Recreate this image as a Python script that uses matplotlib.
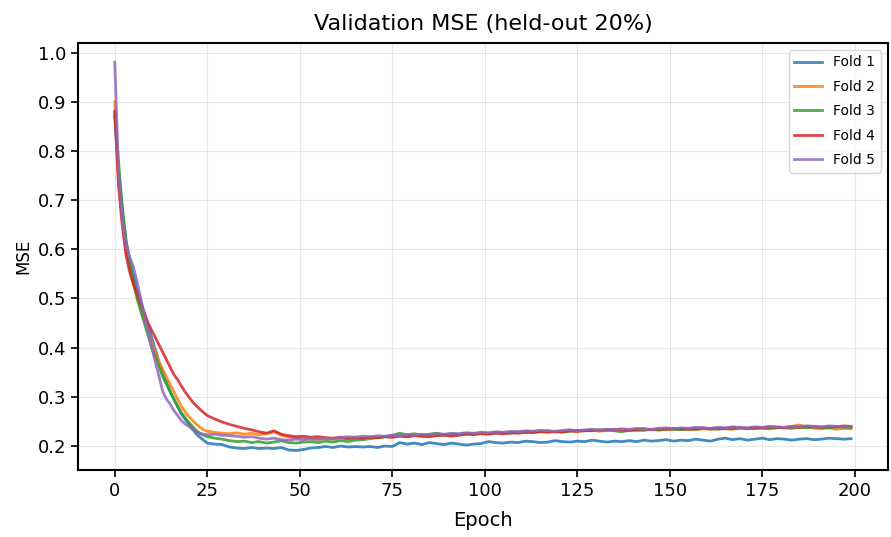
import matplotlib

matplotlib.use("Agg")
import matplotlib.pyplot as plt

# Epochs que se dibujan: cada epoch al principio, cada 2 despues
epochs = list(range(25)) + list(range(25, 200, 2))

fold1 = [
    0.87, 0.76, 0.68, 0.62, 0.58, 0.55, 0.52, 0.495, 0.47, 0.445,
    0.42, 0.395, 0.37, 0.35, 0.33, 0.31, 0.295, 0.28, 0.265, 0.255,
    0.245, 0.235, 0.225, 0.218, 0.212,
    0.206, 0.204, 0.203, 0.198, 0.196, 0.195, 0.197, 0.195, 0.196, 0.195,
    0.197, 0.192, 0.191, 0.193, 0.196, 0.197, 0.199, 0.197, 0.200, 0.198,
    0.199, 0.198, 0.199, 0.197, 0.200, 0.199, 0.207, 0.204, 0.206, 0.203,
    0.207, 0.205, 0.203, 0.206, 0.204, 0.202, 0.204, 0.205, 0.209, 0.207,
    0.206, 0.208, 0.207, 0.210, 0.209, 0.207, 0.208, 0.211, 0.209, 0.208,
    0.210, 0.209, 0.212, 0.210, 0.208, 0.210, 0.209, 0.211, 0.209, 0.212,
    0.210, 0.211, 0.213, 0.210, 0.212, 0.211, 0.214, 0.212, 0.210, 0.214,
    0.216, 0.213, 0.215, 0.212, 0.214, 0.216, 0.213, 0.215, 0.214, 0.212,
    0.214, 0.215, 0.213, 0.214, 0.216, 0.215, 0.214, 0.215,
]
fold2 = [
    0.90, 0.74, 0.66, 0.60, 0.56, 0.53, 0.505, 0.48, 0.455, 0.43,
    0.41, 0.39, 0.37, 0.355, 0.34, 0.325, 0.31, 0.295, 0.28, 0.27,
    0.26, 0.252, 0.245, 0.238, 0.233,
    0.230, 0.228, 0.226, 0.225, 0.227, 0.224, 0.226, 0.223, 0.225, 0.229,
    0.222, 0.218, 0.217, 0.216, 0.214, 0.213, 0.215, 0.214, 0.216, 0.215,
    0.217, 0.216, 0.218, 0.217, 0.219, 0.218, 0.221, 0.219, 0.222, 0.220,
    0.221, 0.223, 0.222, 0.224, 0.223, 0.225, 0.224, 0.226, 0.225, 0.227,
    0.226, 0.228, 0.227, 0.229, 0.228, 0.230, 0.229, 0.228, 0.230, 0.231,
    0.229, 0.231, 0.232, 0.230, 0.232, 0.231, 0.233, 0.232, 0.231, 0.233,
    0.234, 0.232, 0.234, 0.233, 0.235, 0.234, 0.233, 0.235, 0.234, 0.236,
    0.235, 0.234, 0.236, 0.235, 0.237, 0.236, 0.235, 0.237, 0.238, 0.240,
    0.243, 0.239, 0.236, 0.235, 0.237, 0.234, 0.236, 0.235,
]
fold3 = [
    0.88, 0.78, 0.69, 0.62, 0.57, 0.535, 0.50, 0.475, 0.45, 0.425,
    0.40, 0.38, 0.36, 0.34, 0.325, 0.31, 0.295, 0.28, 0.268, 0.258,
    0.248, 0.24, 0.232, 0.226, 0.222,
    0.219, 0.216, 0.214, 0.211, 0.209, 0.210, 0.207, 0.209, 0.206, 0.208,
    0.211, 0.207, 0.206, 0.208, 0.209, 0.207, 0.210, 0.208, 0.211, 0.209,
    0.212, 0.213, 0.215, 0.217, 0.219, 0.222, 0.226, 0.223, 0.225, 0.222,
    0.224, 0.226, 0.223, 0.225, 0.224, 0.226, 0.225, 0.227, 0.226, 0.228,
    0.227, 0.226, 0.229, 0.228, 0.230, 0.229, 0.231, 0.229, 0.228, 0.230,
    0.232, 0.231, 0.233, 0.232, 0.234, 0.231, 0.229, 0.232, 0.233, 0.232,
    0.234, 0.233, 0.235, 0.234, 0.233, 0.235, 0.234, 0.236, 0.235, 0.234,
    0.236, 0.235, 0.237, 0.236, 0.235, 0.237, 0.236, 0.238, 0.237, 0.236,
    0.238, 0.237, 0.239, 0.238, 0.237, 0.239, 0.238, 0.238,
]
fold4 = [
    0.88, 0.73, 0.65, 0.59, 0.555, 0.53, 0.51, 0.49, 0.47, 0.45,
    0.435, 0.42, 0.405, 0.39, 0.375, 0.36, 0.345, 0.335, 0.322, 0.31,
    0.30, 0.29, 0.282, 0.275, 0.268,
    0.262, 0.255, 0.249, 0.244, 0.240, 0.236, 0.233, 0.229, 0.226, 0.231,
    0.224, 0.221, 0.219, 0.220, 0.218, 0.219, 0.217, 0.216, 0.218, 0.215,
    0.217, 0.216, 0.218, 0.217, 0.219, 0.218, 0.220, 0.219, 0.221, 0.220,
    0.219, 0.221, 0.222, 0.220, 0.222, 0.224, 0.223, 0.225, 0.224, 0.226,
    0.225, 0.227, 0.226, 0.228, 0.227, 0.229, 0.228, 0.230, 0.229, 0.231,
    0.230, 0.232, 0.231, 0.233, 0.232, 0.234, 0.233, 0.232, 0.234, 0.235,
    0.233, 0.235, 0.234, 0.236, 0.235, 0.234, 0.236, 0.237, 0.235, 0.237,
    0.236, 0.238, 0.237, 0.236, 0.238, 0.237, 0.239, 0.238, 0.237, 0.239,
    0.238, 0.240, 0.239, 0.238, 0.240, 0.239, 0.241, 0.240,
]
fold5 = [
    0.98, 0.76, 0.66, 0.61, 0.585, 0.565, 0.535, 0.50, 0.465, 0.43,
    0.40, 0.37, 0.34, 0.31, 0.295, 0.285, 0.272, 0.262, 0.252, 0.245,
    0.24, 0.234, 0.229, 0.226, 0.224,
    0.223, 0.224, 0.222, 0.221, 0.220, 0.218, 0.219, 0.216, 0.214, 0.216,
    0.213, 0.212, 0.214, 0.213, 0.215, 0.214, 0.216, 0.215, 0.217, 0.219,
    0.218, 0.220, 0.219, 0.221, 0.220, 0.222, 0.221, 0.223, 0.222, 0.224,
    0.223, 0.225, 0.224, 0.226, 0.225, 0.227, 0.226, 0.228, 0.227, 0.229,
    0.228, 0.230, 0.229, 0.231, 0.230, 0.232, 0.231, 0.230, 0.232, 0.233,
    0.231, 0.233, 0.234, 0.232, 0.234, 0.233, 0.235, 0.234, 0.236, 0.235,
    0.234, 0.236, 0.237, 0.235, 0.237, 0.236, 0.238, 0.237, 0.236, 0.238,
    0.237, 0.239, 0.238, 0.237, 0.239, 0.238, 0.240, 0.239, 0.238, 0.240,
    0.239, 0.241, 0.240, 0.239, 0.241, 0.240, 0.239, 0.240,
]

folds = [fold1, fold2, fold3, fold4, fold5]
nombres = ["Fold 1", "Fold 2", "Fold 3", "Fold 4", "Fold 5"]

fig = plt.figure(figsize=(8.91, 5.37), dpi=100)
ax = fig.add_axes([0.0875, 0.125, 0.909, 0.795])

for valores, nombre in zip(folds, nombres):
    ax.plot(epochs, valores, lw=2, alpha=0.85, label=nombre)

ax.set_title("Validation MSE (held-out 20%)", fontsize=16, pad=9)
ax.set_xlabel("Epoch", fontsize=14, labelpad=8)
ax.set_ylabel("MSE", fontsize=12)
ax.tick_params(labelsize=13, width=1.2, length=5)
ax.grid(True, alpha=0.3)
for spine in ax.spines.values():
    spine.set_linewidth(1.5)
ax.legend(loc="upper right", fontsize=10, labelspacing=0.75)

fig.savefig("out.png", dpi=100)
